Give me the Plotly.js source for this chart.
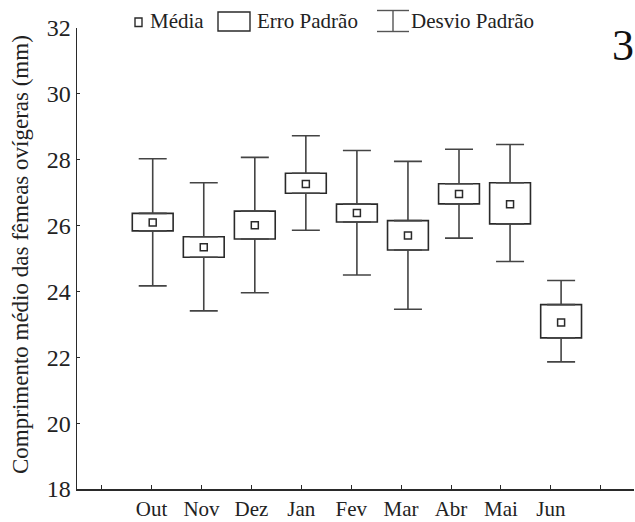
<!DOCTYPE html>
<html>
<head>
<meta charset="utf-8">
<script src="https://cdn.plot.ly/plotly-3.0.1.min.js"></script>
<style>html,body{margin:0;padding:0;background:#fff;}</style>
</head>
<body>
<div id="chart" style="width:635px;height:522px;"></div>
<script>
// ---- data ----
const categories = ['Out','Nov','Dez','Jan','Fev','Mar','Abr','Mai','Jun'];
const means = [26.09, 25.34, 26.01, 27.26, 26.38, 25.70, 26.96, 26.65, 23.06];
const seLow = [25.84, 25.04, 25.59, 26.98, 26.11, 25.26, 26.66, 26.05, 22.59];
const seHigh = [26.37, 25.66, 26.44, 27.59, 26.65, 26.15, 27.27, 27.30, 23.60];
const sdLow = [24.17, 23.41, 23.96, 25.86, 24.50, 23.46, 25.62, 24.91, 21.86];
const sdHigh = [28.03, 27.30, 28.07, 28.73, 28.28, 27.95, 28.32, 28.46, 24.33];
const yTicks = [18, 20, 22, 24, 26, 28, 30, 32];
const xTickText = [''].concat(categories, ['']);
const legendLabels = ['Média', 'Erro Padrão', 'Desvio Padrão'];
const yTitle = 'Comprimento médio das fêmeas ovígeras (mm)';
const panelLabel = '3';

// ---- geometry helpers (pixel -> paper) ----
const W = 635, H = 522;
const mL = 77, mR = 1, mT = 28, mB = 33;
const pw = W - mL - mR, ph = H - mT - mB;
const px = x => (x - mL) / pw;
const py = y => (H - mB - y) / ph;

const serif = '"Liberation Serif", "Times New Roman", Times, serif';
const ink = '#2a2a2a';

// anchor trace so the labelled x axis is drawn
const axisAnchor = {
  type: 'scatter', mode: 'markers', xaxis: 'x', yaxis: 'y',
  x: [0], y: [null], marker: {size: 1, color: 'rgba(0,0,0,0)'},
  hoverinfo: 'skip', showlegend: false
};
const upperWhisker = {
  type: 'scatter', mode: 'markers', xaxis: 'x2', yaxis: 'y',
  x: categories, y: seHigh,
  marker: {size: 1, color: 'rgba(0,0,0,0)'},
  error_y: {type: 'data', symmetric: false,
    array: sdHigh.map((v, i) => v - seHigh[i]),
    arrayminus: seHigh.map(() => 0),
    color: '#444', thickness: 1.6, width: 14},
  hoverinfo: 'skip', showlegend: false
};
const lowerWhisker = {
  type: 'scatter', mode: 'markers', xaxis: 'x2', yaxis: 'y',
  x: categories, y: seLow,
  marker: {size: 1, color: 'rgba(0,0,0,0)'},
  error_y: {type: 'data', symmetric: false,
    array: seLow.map(() => 0),
    arrayminus: seLow.map((v, i) => v - sdLow[i]),
    color: '#444', thickness: 1.6, width: 14},
  hoverinfo: 'skip', showlegend: false
};
const boxes = {
  type: 'bar', xaxis: 'x2', yaxis: 'y',
  x: categories, base: seLow, y: seHigh.map((v, i) => v - seLow[i]),
  width: 0.8,
  marker: {color: '#ffffff', line: {color: ink, width: 1.6}},
  hoverinfo: 'skip', showlegend: false
};
const meanPts = {
  type: 'scatter', mode: 'markers', xaxis: 'x2', yaxis: 'y',
  x: categories, y: means,
  marker: {symbol: 'square-open', size: 7, color: ink, line: {width: 1.5, color: ink}},
  hoverinfo: 'skip', showlegend: false
};

const shapes = [
  {type: 'rect', xref: 'paper', yref: 'paper', x0: px(135), x1: px(142), y0: py(26.5), y1: py(18),
   line: {color: ink, width: 1.4}, fillcolor: '#fff'},
  {type: 'rect', xref: 'paper', yref: 'paper', x0: px(218), x1: px(250), y0: py(31), y1: py(12),
   line: {color: ink, width: 1.4}, fillcolor: '#fff'},
  {type: 'line', xref: 'paper', yref: 'paper', x0: px(377), x1: px(409), y0: py(10.5), y1: py(10.5),
   line: {color: '#555', width: 1.4}},
  {type: 'line', xref: 'paper', yref: 'paper', x0: px(377), x1: px(409), y0: py(31.5), y1: py(31.5),
   line: {color: '#555', width: 1.4}},
  {type: 'line', xref: 'paper', yref: 'paper', x0: px(393), x1: px(393), y0: py(10.5), y1: py(31.5),
   line: {color: '#555', width: 1.4}}
];

const annotations = [
  {text: legendLabels[0], xref: 'paper', yref: 'paper', x: px(148), y: py(21), xanchor: 'left', yanchor: 'middle', showarrow: false, font: {family: serif, size: 21, color: '#222'}},
  {text: legendLabels[1], xref: 'paper', yref: 'paper', x: px(255), y: py(21), xanchor: 'left', yanchor: 'middle', showarrow: false, font: {family: serif, size: 21, color: '#222'}},
  {text: legendLabels[2], xref: 'paper', yref: 'paper', x: px(409), y: py(21), xanchor: 'left', yanchor: 'middle', showarrow: false, font: {family: serif, size: 21, color: '#222'}},
  {text: panelLabel, xref: 'paper', yref: 'paper', x: px(623), y: py(46), xanchor: 'center', yanchor: 'middle', showarrow: false, font: {family: serif, size: 44, color: '#111'}},
  {text: yTitle, xref: 'paper', yref: 'paper', x: px(20), y: py(255), xanchor: 'center', yanchor: 'middle', textangle: -90, showarrow: false, font: {family: serif, size: 23, color: '#222'}}
];

const layout = {
  width: W, height: H,
  margin: {l: mL, r: mR, t: mT, b: mB, pad: 0},
  paper_bgcolor: '#fff', plot_bgcolor: '#fff',
  showlegend: false,
  bargap: 0,
  xaxis: {
    type: 'linear', range: [-0.495, 10.667],
    tickmode: 'array', tickvals: xTickText.map((_, i) => i), ticktext: xTickText,
    ticks: 'inside', ticklen: 4, tickwidth: 1, tickcolor: ink,
    showline: true, linecolor: ink, linewidth: 1.5,
    showgrid: false, zeroline: false, automargin: false,
    tickfont: {family: serif, size: 21, color: '#222'}
  },
  xaxis2: {
    type: 'category', categoryorder: 'array', categoryarray: categories,
    overlaying: 'x', anchor: 'y', range: [-1.483, 9.428], visible: false, showgrid: false
  },
  yaxis: {
    range: [18, 32], tickmode: 'array', tickvals: yTicks,
    ticks: 'inside', ticklen: 3, tickwidth: 1, tickcolor: ink,
    showline: true, linecolor: ink, linewidth: 1.5,
    showgrid: false, zeroline: false, automargin: false,
    tickfont: {family: serif, size: 24, color: '#222'}
  },
  shapes: shapes,
  annotations: annotations
};

Plotly.newPlot('chart', [axisAnchor, upperWhisker, lowerWhisker, boxes, meanPts], layout, {displayModeBar: false, staticPlot: true});
</script>
</body>
</html>
